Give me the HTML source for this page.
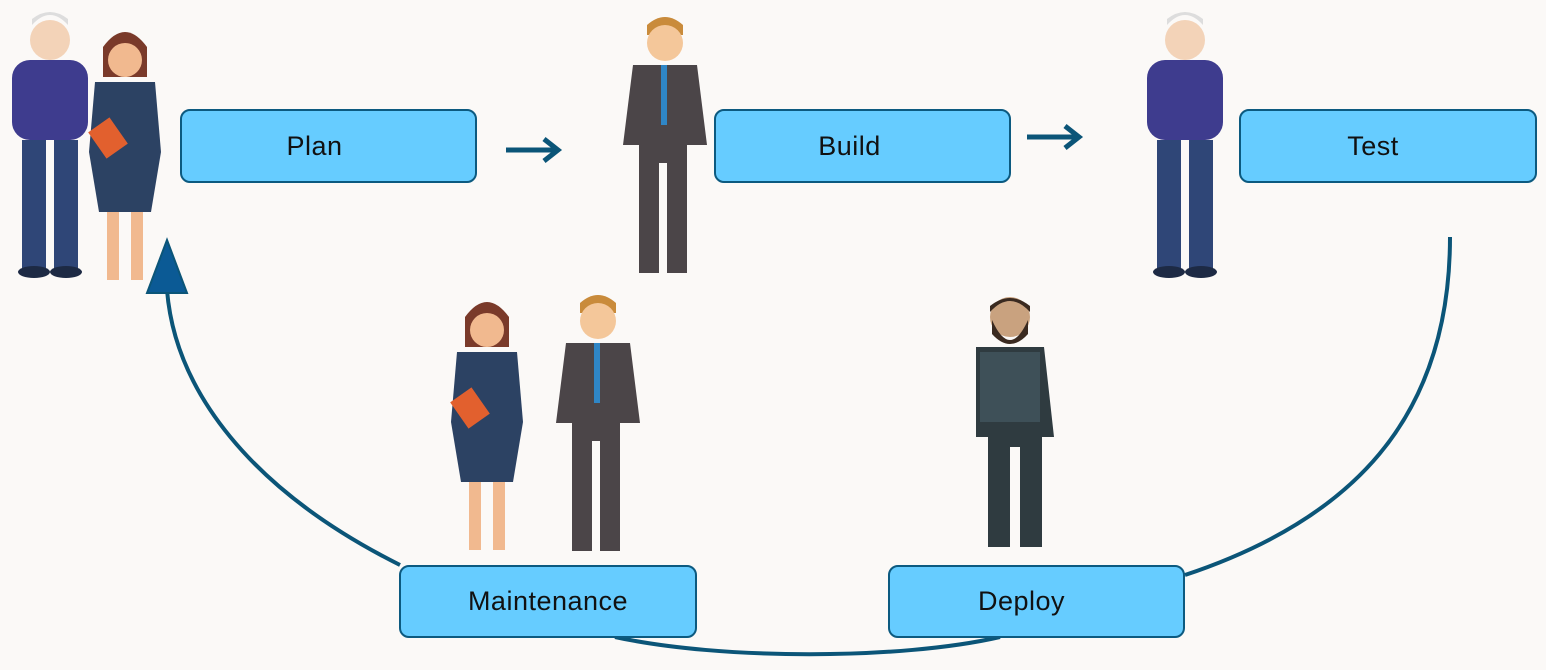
<!DOCTYPE html>
<html><head><meta charset="utf-8"><style>
body{margin:0;width:1546px;height:670px;overflow:hidden;background:#fbf9f7;font-family:"Liberation Sans",sans-serif}
.b{position:absolute;background:#66ccff;border:2px solid #0c5a80;border-radius:10px;display:flex;align-items:center;justify-content:center;font-size:27px;color:#111;box-sizing:border-box;letter-spacing:0.5px}
svg{position:absolute;left:0;top:0}
</style></head><body>
<svg width="1546" height="670">
<defs>
<g id="man1">
 <circle cx="0" cy="-230" r="20" fill="#f3d3b8"/><path d="M-18,-245 q18,-20 36,0 v-6 q-18,-14 -36,0z" fill="#ddd"/>
 <rect x="-38" y="-210" width="76" height="80" rx="18" fill="#3e3c8e"/>
 <rect x="-28" y="-130" width="24" height="130" fill="#2f4677"/><rect x="4" y="-130" width="24" height="130" fill="#2f4677"/>
 <ellipse cx="-16" cy="2" rx="16" ry="6" fill="#1d2a44"/><ellipse cx="16" cy="2" rx="16" ry="6" fill="#1d2a44"/>
</g>
<g id="woman">
 <path d="M-22,-235 q22,-30 44,0 v30 h-44z" fill="#7a3a2a"/><circle cx="0" cy="-222" r="17" fill="#f1b98f"/>
 <path d="M-30,-200 h60 l6,70 l-10,60 h-52 l-10,-60z" fill="#2c4263"/>
 <rect x="-18" y="-70" width="12" height="68" fill="#f1b98f"/><rect x="6" y="-70" width="12" height="68" fill="#f1b98f"/>
 <rect x="-30" y="-160" width="26" height="32" fill="#e2602e" transform="rotate(-35 -17 -144)"/>
</g>
<g id="man2">
 <path d="M-18,-250 q18,-16 36,0 v10 h-36z" fill="#c98b3b"/><circle cx="0" cy="-232" r="18" fill="#f4c79a"/>
 <path d="M-32,-210 h64 l10,80 h-20 v128 h-20 v-110 h-8 v110 h-20 v-128 h-16z" fill="#4b4548"/>
 <rect x="-4" y="-210" width="6" height="60" fill="#2f86c6"/>
</g>
<g id="man3">
 <circle cx="0" cy="-235" r="20" fill="#c9a27f"/><path d="M-20,-240 q20,-22 40,0 v-6 q-20,-16 -40,0z" fill="#3a2a20"/><path d="M-18,-232 q18,40 36,0 v14 q-18,20 -36,0z" fill="#3a2a20"/>
 <path d="M-34,-205 h68 l10,90 h-12 v110 h-22 v-100 h-10 v100 h-22 v-110 h-12z" fill="#2f3b40"/>
 <path d="M-30,-200 h60 v70 h-60z" fill="#3e5058"/>
</g>
</defs>
<path d="M1450,237 C1450,420 1350,520 1185,575" fill="none" stroke="#0b5578" stroke-width="4"/>
<path d="M1000,637 C900,660 720,660 615,637" fill="none" stroke="#0b5578" stroke-width="4"/>
<path d="M400,565 C250,490 175,390 167,290" fill="none" stroke="#0b5578" stroke-width="4"/>
<polygon points="147,293 187,293 167,240" fill="#0b5a95" stroke="#0b5578" stroke-width="2"/>
<path d="M506,150 H558 M544,139 L558,150 L544,161" fill="none" stroke="#0b5578" stroke-width="5"/>
<path d="M1027,137 H1079 M1065,126 L1079,137 L1065,148" fill="none" stroke="#0b5578" stroke-width="5"/>
<use href="#man1" x="50" y="270"/>
<use href="#woman" x="125" y="282"/>
<use href="#man2" x="665" y="275"/>
<use href="#man1" x="1185" y="270"/>
<use href="#woman" x="487" y="552"/>
<use href="#man2" x="598" y="553"/>
<use href="#man3" x="1010" y="552"/>
</svg>
<div class="b" style="left:180px;top:109px;width:297px;height:74px;padding-right:28px">Plan</div>
<div class="b" style="left:714px;top:109px;width:297px;height:74px;padding-right:26px">Build</div>
<div class="b" style="left:1239px;top:109px;width:298px;height:74px;padding-right:30px">Test</div>
<div class="b" style="left:399px;top:565px;width:298px;height:73px">Maintenance</div>
<div class="b" style="left:888px;top:565px;width:297px;height:73px;padding-right:30px">Deploy</div>
</body></html>
